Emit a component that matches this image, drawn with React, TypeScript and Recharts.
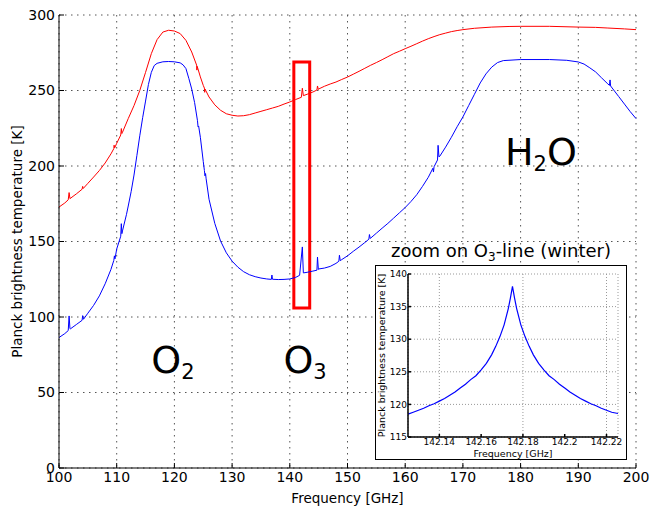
import {
  LineChart,
  Line,
  XAxis,
  YAxis,
  CartesianGrid,
  ReferenceArea,
  ReferenceDot,
} from "recharts";

const xTicks = [100, 110, 120, 130, 140, 150, 160, 170, 180, 190, 200];
const yTicks = [0, 50, 100, 150, 200, 250, 300];

// red: summer-ish spectrum (upper curve)
const redFreq = [
  100, 101, 101.6, 101.75, 101.9, 103, 104, 104.1, 104.2, 105, 106, 107, 108, 109, 109.5, 109.55, 109.65,
  110, 110.7, 110.8, 110.9, 111, 112, 113, 114, 115, 116, 117, 118, 119, 120, 121, 122, 123, 123.85, 123.9,
  123.95, 124.5, 125, 125.2, 125.25, 125.3, 126, 127, 128, 129, 130, 131, 132, 133, 134, 135, 136, 137, 138,
  139, 140, 141, 142, 142.175, 142.35, 143, 144, 144.7, 144.8, 144.95, 145, 146, 147, 148, 149, 150, 151, 152,
  153, 154, 155, 156, 157, 158, 159, 160, 161, 162, 163, 164, 165, 166, 167, 168, 169, 170, 172, 175, 178, 180,
  185, 190, 193, 195, 198, 200,
];
const redTemp = [
  172.8, 175.5, 177.6, 182.4, 178.4, 181.5, 184.6, 186.5, 185.1, 188.5, 192.7, 197, 202, 208, 211.5, 213.8, 212,
  215, 220.5, 224.8, 221.5, 222.3, 231.4, 240, 250, 262, 274.4, 283.7, 288.7, 289.9, 289.4, 287.7, 283.2, 275.5,
  266.8, 263.5, 266, 259, 253.4, 251.6, 248.8, 251, 245.7, 240.5, 236.9, 234.6, 233.6, 233.1, 233.3, 234, 235.1,
  236.2, 237.3, 238.4, 239.5, 241, 242.4, 244, 245.5, 251.5, 246.6, 247.5, 249, 250.3, 253, 250.7, 251, 252.8,
  254.3, 255.6, 257.3, 258.9, 260.8, 262.7, 264.7, 266.7, 268.5, 270.4, 272.4, 274.4, 276, 277.7, 279.3, 281,
  282.7, 284.3, 285.7, 287, 288, 289, 289.7, 290.3, 291.2, 292, 292.4, 292.5, 292.5, 292, 291.8, 291.4, 290.8,
  290.3,
];

// blue: winter spectrum (lower curve)
const blueFreq = [
  100, 101, 101.6, 101.75, 101.9, 102, 103, 104, 104.1, 104.25, 105, 106, 107, 108, 109, 109.5, 109.6, 109.7,
  110, 110.7, 110.8, 110.9, 111, 111.7, 112, 112.5, 113, 113.5, 114, 114.5, 115, 115.5, 116, 116.5, 117, 118,
  119, 120, 121, 121.5, 122, 122.5, 123, 123.5, 124, 124.1, 124.2, 124.5, 125, 125.2, 125.3, 125.4, 125.5, 126,
  127, 128, 129, 130, 131, 132, 133, 134, 135, 136, 136.8, 136.9, 137, 138, 139, 140, 141, 141.7, 142.175,
  142.35, 143, 144, 144.7, 144.8, 144.95, 145, 146, 147, 148, 148.5, 148.6, 148.75, 149, 150, 151, 152, 153,
  153.7, 153.8, 153.95, 154, 155, 156, 157, 158, 159, 160, 161, 162, 163, 164, 164.8, 164.9, 165, 165.6, 165.7,
  165.85, 166, 167, 168, 169, 170, 171, 172, 173, 174, 175, 176, 177, 180, 185, 188, 190, 191, 192, 193, 194, 195,
  195.4, 195.5, 195.6, 196, 197, 198, 199, 200,
];
const blueTemp = [
  86.4, 89, 91, 100.7, 92.3, 92.2, 95, 97.8, 100.9, 98.5, 102.5, 107.7, 114, 122, 131.5, 137.5, 140.5, 138.5, 145,
  153.5, 161.8, 155.2, 157, 168, 173.5, 183, 194, 207, 220, 232, 243, 254, 262, 266.5, 268, 269, 269.2, 269, 268.3,
  267, 264.5, 258, 251, 242, 230, 226, 226.5, 219, 203, 197, 193.5, 195, 191.5, 178, 162, 150.3, 142.5, 137, 133,
  130, 128, 126.7, 125.8, 125.2, 124.9, 127.8, 125, 124.8, 124.9, 125.2, 126.2, 127.6, 146.4, 129.2, 129.6, 130.4,
  131, 139.7, 131.5, 131.8, 132.4, 133.5, 135.5, 136.9, 140.9, 137.3, 138, 140.5, 143.5, 146.3, 149.3, 151.5,
  154.6, 152, 152.2, 155.5, 158.8, 162, 165.5, 169, 172.5, 176.5, 181, 186.5, 192.5, 198.5, 196, 199.5, 204,
  213.7, 206, 206.5, 212.5, 219, 226, 232.5, 240, 247.5, 255, 261, 265.5, 268.5, 269.8, 270.5, 270.5, 270,
  268.9, 267.5, 265, 262.3, 258.5, 254.8, 253.4, 257, 253, 251, 246, 241, 236, 231.4,
];

// inset: zoom on the O3 line at 142.175 GHz
const insetFreq = [
  142.125, 142.1275, 142.13, 142.1325, 142.135, 142.1375, 142.14, 142.1425, 142.145, 142.1475, 142.15, 142.1525,
  142.155, 142.1575, 142.16, 142.1625, 142.165, 142.167, 142.169, 142.171, 142.173, 142.174, 142.175, 142.176,
  142.177, 142.179, 142.181, 142.183, 142.185, 142.1875, 142.19, 142.1925, 142.195, 142.1975, 142.2, 142.2025,
  142.205, 142.2075, 142.21, 142.2125, 142.215, 142.2175, 142.22, 142.2225, 142.2255,
];
const insetTemp = [
  118.5, 118.8, 119.1, 119.4, 119.8, 120.1, 120.5, 120.9, 121.4, 121.9, 122.5, 123.1, 123.8, 124.4, 125.3, 126.3,
  127.6, 128.9, 130.4, 132.2, 134.7, 136.3, 138.1, 136.3, 134.7, 132.2, 130.4, 128.9, 127.6, 126.3, 125.3, 124.4,
  123.8, 123.1, 122.5, 121.9, 121.4, 120.9, 120.5, 120.1, 119.8, 119.4, 119.1, 118.8, 118.6,
];
const insetXTicks = [142.14, 142.16, 142.18, 142.2, 142.22];
const insetYTicks = [115, 120, 125, 130, 135, 140];

const molLabels = [
  { f: 116, t: 62.7, main: "O", sub: "2", tail: "" },
  { f: 138.9, t: 62.7, main: "O", sub: "3", tail: "" },
  { f: 177.3, t: 200.5, main: "H", sub: "2", tail: "O" },
];

const toPoints = (fs: number[], ts: number[]) => fs.map((f, i) => ({ f, t: ts[i] }));

const redData = toPoints(redFreq, redTemp);
const blueData = toPoints(blueFreq, blueTemp);
const insetData = toPoints(insetFreq, insetTemp);

const FONT = "'DejaVu Sans', sans-serif";

function MolText({ viewBox, main, sub, tail }: any) {
  return (
    <text x={viewBox.x} y={viewBox.y} fontSize={38} fill="#000" fontFamily={FONT}>
      {main}
      <tspan fontSize={21} dy={6}>{sub}</tspan>
      {tail && <tspan dy={-6}>{tail}</tspan>}
    </text>
  );
}

export default function App() {
  return (
    <div style={{ position: "absolute", left: 0, top: 0, width: 650, height: 509, background: "#fff", fontFamily: FONT }}>
      <LineChart width={650} height={509} data={redData} margin={{ top: 15, right: 14, left: 0, bottom: 0 }}>
        <CartesianGrid stroke="#555" strokeDasharray="1.5 4.5" />
        <XAxis
          dataKey="f"
          type="number"
          domain={[100, 200]}
          ticks={xTicks}
          height={41}
          tickSize={-5}
          tickMargin={9}
          stroke="#000"
          tick={{ fill: "#000", fontSize: 14 }}
          label={{ value: "Frequency [GHz]", position: "insideBottom", offset: 6, fill: "#000", fontSize: 13.5 }}
        />
        <XAxis
          xAxisId="top"
          orientation="top"
          dataKey="f"
          type="number"
          domain={[100, 200]}
          ticks={xTicks}
          height={0}
          tickSize={-5}
          stroke="#000"
          tickFormatter={() => ""}
        />
        <YAxis
          type="number"
          domain={[0, 300]}
          ticks={yTicks}
          width={59}
          tickSize={-5}
          tickMargin={9}
          stroke="#000"
          tick={{ fill: "#000", fontSize: 14 }}
          label={{
            value: "Planck brightness temperature [K]",
            angle: -90,
            position: "insideLeft",
            offset: 17,
            fill: "#000",
            fontSize: 13.5,
            style: { textAnchor: "middle" },
          }}
        />
        <YAxis
          yAxisId="right"
          orientation="right"
          type="number"
          domain={[0, 300]}
          ticks={yTicks}
          width={0}
          tickSize={-5}
          stroke="#000"
          tickFormatter={() => ""}
        />
        <Line data={redData} dataKey="t" stroke="#ff0000" strokeWidth={1} dot={false} activeDot={false} isAnimationActive={false} />
        <Line data={blueData} dataKey="t" stroke="#0000ff" strokeWidth={1} dot={false} activeDot={false} isAnimationActive={false} />
        <ReferenceArea x1={140.7} x2={143.45} y1={106} y2={268.9} fill="none" stroke="#ff0000" strokeWidth={3} fillOpacity={0} strokeOpacity={1} />
        {molLabels.map((m) => (
          <ReferenceDot
            key={m.f}
            x={m.f}
            y={m.t}
            r={0}
            fill="none"
            stroke="none"
            label={(p: any) => <MolText viewBox={p.viewBox} main={m.main} sub={m.sub} tail={m.tail} />}
          />
        ))}
      </LineChart>

      <div
        style={{
          position: "absolute",
          left: 375,
          top: 265,
          width: 252,
          height: 195,
          border: "1px solid #000",
          boxSizing: "border-box",
          background: "#fff",
        }}
      />
      <div style={{ position: "absolute", left: 375, top: 265 }}>
        <LineChart width={252} height={195} data={insetData} margin={{ top: 9, right: 9, left: 0, bottom: 0 }}>
          <CartesianGrid stroke="#999" strokeDasharray="1 2" />
          <XAxis
            dataKey="f"
            type="number"
            domain={[142.125, 142.2255]}
            ticks={insetXTicks}
            height={23}
            tickSize={-3}
            tickMargin={5}
            stroke="#000"
            strokeWidth={1.5}
            tick={{ fill: "#000", fontSize: 9 }}
            tickFormatter={(v: number) => String(Number(v.toFixed(2)))}
            label={{ value: "Frequency [GHz]", position: "insideBottom", offset: 3, fill: "#000", fontSize: 9.5 }}
          />
          <XAxis
            xAxisId="top"
            orientation="top"
            dataKey="f"
            type="number"
            domain={[142.125, 142.2255]}
            ticks={insetXTicks}
            height={0}
            tickSize={-3}
            stroke="#000"
            strokeWidth={1.5}
            tickFormatter={() => ""}
          />
          <YAxis
            type="number"
            domain={[115, 140]}
            ticks={insetYTicks}
            width={33}
            tickSize={-3}
            tickMargin={4}
            stroke="#000"
            strokeWidth={1.5}
            tick={{ fill: "#000", fontSize: 9 }}
            label={{
              value: "Planck brightness temperature [K]",
              angle: -90,
              position: "insideLeft",
              offset: 7,
              fill: "#000",
              fontSize: 9.5,
              style: { textAnchor: "middle" },
            }}
          />
          <YAxis
            yAxisId="right"
            orientation="right"
            type="number"
            domain={[115, 140]}
            ticks={insetYTicks}
            width={0}
            tickSize={-3}
            stroke="#000"
            strokeWidth={1.5}
            tickFormatter={() => ""}
          />
          <Line dataKey="t" stroke="#0000ff" strokeWidth={1.2} dot={false} activeDot={false} isAnimationActive={false} />
        </LineChart>
      </div>

      <svg width={650} height={509} style={{ position: "absolute", left: 0, top: 0, pointerEvents: "none" }}>
        <text x={501} y={257} textAnchor="middle" fontSize={18} fill="#000" fontFamily={FONT}>
          zoom on O<tspan fontSize={12} dy={4}>3</tspan>
          <tspan dy={-4}>-line (winter)</tspan>
        </text>
      </svg>
    </div>
  );
}
